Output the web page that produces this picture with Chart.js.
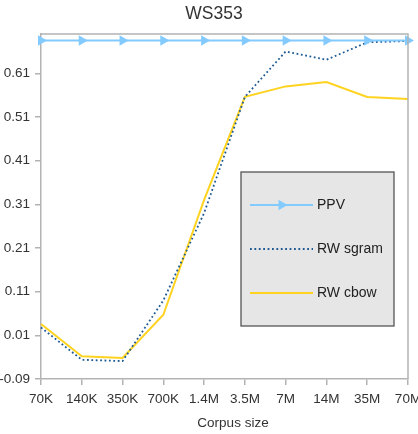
<!DOCTYPE html>
<html>
<head>
    <title>WS353</title>
    <script src="https://cdn.jsdelivr.net/npm/chart.js"></script>
    <style>
        body { margin: 0; background: #fff; }
    </style>
</head>
<body>
    <canvas id="wsChart" width="418" height="434"></canvas>

    <script>
    // values
    const corpusSizes = ['70K', '140K', '350K', '700K', '1.4M', '3.5M', '7M', '14M', '35M', '70M'];
    const ppv = [0.685, 0.685, 0.685, 0.685, 0.685, 0.685, 0.685, 0.685, 0.685, 0.685];
    const rwSgram = [0.028, -0.046, -0.049, 0.09, 0.29, 0.556, 0.66, 0.641, 0.681, 0.684];
    const rwCbow = [0.036, -0.038, -0.042, 0.057, 0.32, 0.556, 0.58, 0.59, 0.556, 0.551];
    const yTicks = [-0.09, 0.01, 0.11, 0.21, 0.31, 0.41, 0.51, 0.61];
    const chartTitle = 'WS353';
    const xTitle = 'Corpus size';

    const FONT = 'Liberation Sans, Arial, sans-serif';
    const AXIS_GRAY = '#b3b3b3';

    // titles, box round the plot, legend box inside it
    const boxAndLegend = {
        id: 'boxAndLegend',
        afterDraw(chart) {
            const ctx = chart.ctx;
            const ca = chart.chartArea;
            ctx.save();

            ctx.fillStyle = '#333';
            ctx.textAlign = 'center';
            ctx.textBaseline = 'middle';
            ctx.font = '17.5px ' + FONT;
            ctx.fillText(chartTitle, chart.width / 2 + 5, 14);
            ctx.font = '13.5px ' + FONT;
            ctx.fillText(xTitle, ca.left + 192, chart.height - 11);
            ctx.textAlign = 'left';

            ctx.strokeStyle = AXIS_GRAY;
            ctx.lineWidth = 1.5;
            ctx.beginPath();
            ctx.moveTo(ca.left, ca.top);
            ctx.lineTo(ca.right, ca.top);
            ctx.lineTo(ca.right, ca.bottom);
            ctx.stroke();

            const bx = ca.left + 200, by = ca.top + 138, bw = 153, bh = 154;
            ctx.fillStyle = '#e6e6e6';
            ctx.fillRect(bx, by, bw, bh);
            ctx.strokeStyle = '#555';
            ctx.lineWidth = 1.3;
            ctx.strokeRect(bx, by, bw, bh);

            ctx.font = '14px ' + FONT;
            chart.data.datasets.forEach((ds, i) => {
                const y = by + 33 + i * 44;
                const x0 = bx + 9, x1 = bx + 72;
                ctx.strokeStyle = ds.borderColor;
                ctx.lineWidth = ds.borderWidth;
                ctx.setLineDash(ds.borderDash || []);
                ctx.beginPath();
                ctx.moveTo(x0, y);
                ctx.lineTo(x1, y);
                ctx.stroke();
                ctx.setLineDash([]);
                if (ds.pointRadius > 0) {
                    const mx = (x0 + x1) / 2, r = ds.pointRadius;
                    ctx.fillStyle = ds.pointBackgroundColor;
                    ctx.beginPath();
                    ctx.moveTo(mx + r, y);
                    ctx.lineTo(mx - r * 0.5, y - r * 0.87);
                    ctx.lineTo(mx - r * 0.5, y + r * 0.87);
                    ctx.closePath();
                    ctx.fill();
                }
                ctx.fillStyle = '#222';
                ctx.fillText(ds.label, x1 + 4, y);
            });
            ctx.restore();
        }
    };

    const ctx = document.getElementById('wsChart').getContext('2d');
    new Chart(ctx, {
        type: 'line',
        data: {
            labels: corpusSizes,
            datasets: [{
                label: 'PPV',
                data: ppv,
                borderColor: '#83caff',
                borderWidth: 2,
                pointStyle: 'triangle',
                rotation: 90,
                pointRadius: 6,
                pointBackgroundColor: '#83caff',
                pointBorderColor: '#83caff',
                pointBorderWidth: 0
            }, {
                label: 'RW sgram',
                data: rwSgram,
                borderColor: '#1d5a94',
                borderWidth: 1.8,
                borderDash: [1.8, 2.6],
                pointRadius: 0
            }, {
                label: 'RW cbow',
                data: rwCbow,
                borderColor: '#ffd320',
                borderWidth: 2,
                pointRadius: 0
            }]
        },
        options: {
            responsive: false,
            animation: false,
            layout: {
                autoPadding: false,
                padding: { left: 0, right: 10, top: 34, bottom: 0 }
            },
            plugins: {
                legend: { display: false },
                tooltip: { enabled: false },
                title: { display: false }
            },
            scales: {
                x: {
                    offset: false,
                    afterFit: s => {
                        s.height = 55;
                        s.paddingLeft = 0;
                        s.paddingRight = 0;
                    },
                    grid: {
                        drawOnChartArea: false,
                        drawTicks: true,
                        tickLength: 6,
                        color: AXIS_GRAY,
                        lineWidth: 1.5
                    },
                    border: { color: AXIS_GRAY, width: 1.5 },
                    ticks: {
                        color: '#333',
                        font: { family: FONT, size: 13.5 },
                        maxRotation: 0,
                        autoSkip: false,
                        padding: 6
                    },
                    title: { display: false }
                },
                y: {
                    min: -0.09,
                    max: 0.70,
                    afterFit: s => {
                        s.width = 41;
                        s.paddingTop = 0;
                        s.paddingBottom = 0;
                    },
                    afterBuildTicks: s => { s.ticks = yTicks.map(v => ({ value: v })); },
                    grid: {
                        drawOnChartArea: false,
                        drawTicks: true,
                        tickLength: 6,
                        color: AXIS_GRAY,
                        lineWidth: 1.5
                    },
                    border: { color: AXIS_GRAY, width: 1.5 },
                    ticks: {
                        color: '#333',
                        font: { family: FONT, size: 13.5 },
                        padding: 5,
                        callback: v => Number(v).toFixed(2)
                    }
                }
            }
        },
        plugins: [boxAndLegend]
    });
    </script>
</body>
</html>
